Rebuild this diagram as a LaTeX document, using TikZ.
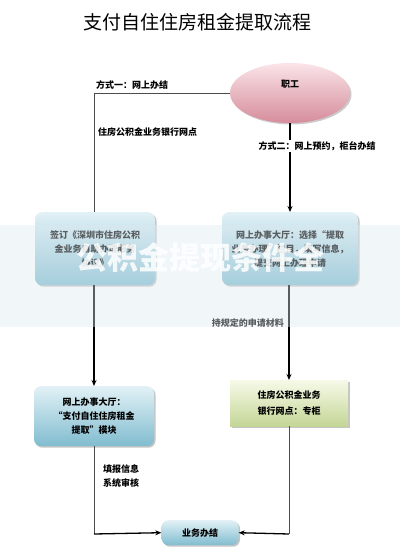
\documentclass[tikz,border=0pt]{standalone}
\usepackage{fontspec}
\setmainfont{Noto Sans CJK SC}
\usetikzlibrary{shapes.geometric,shadows,arrows.meta}
\definecolor{boxtop}{RGB}{226,241,246}
\definecolor{boxbot}{RGB}{128,188,207}
\definecolor{pinktop}{RGB}{250,228,232}
\definecolor{pinkbot}{RGB}{214,140,155}
\definecolor{greentop}{RGB}{246,249,232}
\definecolor{greenbot}{RGB}{196,214,150}
\definecolor{bandcol}{RGB}{222,234,240}
\tikzset{
  bluebox/.style={rounded corners=7pt, top color=boxtop, bottom color=boxbot, draw=none,
    drop shadow={shadow xshift=1.5pt, shadow yshift=-1.5pt, fill=black!45},
    align=center, font=\fontsize{9}{14}\selectfont\bfseries},
  greenbox/.style={top color=greentop, bottom color=greenbot, draw=none,
    drop shadow={shadow xshift=1.5pt, shadow yshift=-1.5pt, fill=black!45},
    align=center, font=\fontsize{9}{16}\selectfont\bfseries},
  lbl/.style={font=\fontsize{9}{14}\selectfont\bfseries, inner sep=1pt, align=left},
  thinline/.style={draw=black!70, line width=0.8pt},
  thickline/.style={draw=black, line width=1.3pt},
  arr/.style={-{Stealth[length=6pt,width=5pt]}}
}
\begin{document}
\begin{tikzpicture}[x=1pt,y=-1pt]
\useasboundingbox (0,0) rectangle (400,549);
\fill[white] (0,0) rectangle (400,549);
% title
\node (title) at (197,22) {\fontsize{19}{22}\selectfont 支付自住住房租金提取流程};
% ellipse
\node[ellipse, minimum width=120pt, minimum height=60pt, top color=pinktop, bottom color=pinkbot,
  drop shadow={shadow xshift=1.5pt, shadow yshift=-1.5pt, fill=black!40}] (emp) at (290,93) {};
\node[font=\fontsize{9}{12}\selectfont\bfseries] (emptxt) at (290,84) {职工};
% boxes
\node[bluebox, minimum width=120pt, minimum height=73pt, text width=110pt, anchor=north] (b1) at (95,212) {签订《深圳市住房公积\\金业务自助办理服务\\协议》};
\node[bluebox, minimum width=136pt, minimum height=73pt, text width=126pt, anchor=north] (b2) at (290,212) {网上办事大厅：选择“提取\\业务办理”栏目，填写信息，\\提交网上办理申请};
\node[bluebox, minimum width=120pt, minimum height=60pt, text width=110pt, anchor=north] (b3) at (94,386) {网上办事大厅：\\“支付自住住房租金\\提取”模块};
\node[greenbox, minimum width=118pt, minimum height=46pt, anchor=north] (g1) at (289,380) {住房公积金业务\\银行网点：专柜};
\node[bluebox, minimum width=77pt, minimum height=25pt, anchor=north] (fin) at (200,520) {业务办结};
% coordinates
\coordinate (c1) at (94,93);
\coordinate (c2) at (94,534);
\coordinate (c3) at (289,534);
% connectors
\draw[thinline] (emp.west) -- (c1) -- (b1.north -| c1);
\draw[thickline, arr] (emp.south -| b2.north) -- (b2.north);
\draw[thickline, arr] (b1.south -| c1) -- (b3.north -| c1);
\draw[thickline, arr] (b2.south -| g1.north) -- (g1.north);
\draw[thinline] (b3.south -| c2) -- (c2);
\draw[thickline, arr] (c2) -- (fin.west);
\draw[thinline] (g1.south -| c3) -- (c3);
\draw[thickline, arr] (c3) -- (fin.east);
% labels
\node[lbl, anchor=south west] (l1) at (95,91) {方式一：网上办结};
\node[lbl, anchor=west] (l2) at (97,132) {住房公积金业务银行网点};
\node[lbl, anchor=center, fill=white] (l3) at (317,146) {方式二：网上预约，柜台办结};
\node[lbl, anchor=east] (l4) at (285,323) {持规定的申请材料};
\node[lbl, anchor=west] (l5) at (102,476) {填报信息\\系统审核};
% watermark band
\fill[bandcol, opacity=0.4] (0,225) rectangle (400,327);
\node[text=white, opacity=0.85, font=\fontsize{31}{34}\selectfont\bfseries] (wm) at (200,258) {公积金提现条件全};
\end{tikzpicture}
\end{document}
